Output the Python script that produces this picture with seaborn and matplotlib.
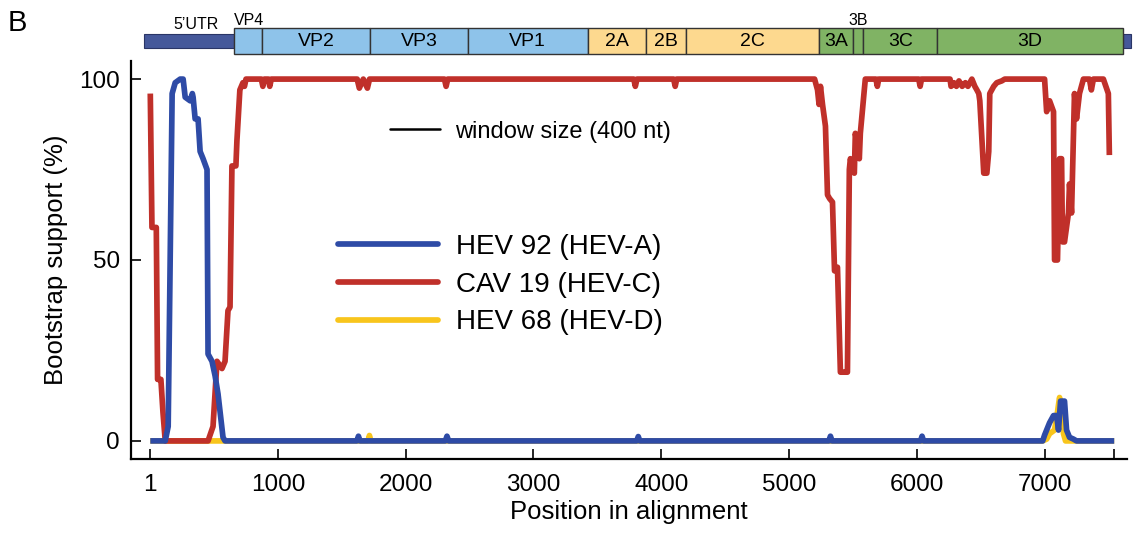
import pandas as pd
import seaborn as sns
import matplotlib.pyplot as plt
from matplotlib.lines import Line2D
from matplotlib.patches import Rectangle

# bootscan values (position in alignment, bootstrap %)
hev92_pos = [1, 118, 141, 172, 196, 235, 258, 274, 313, 330, 336, 352, 375, 391, 414, 445, 453, 484,
             508, 531, 570, 586, 1618, 1630, 1642, 2310, 2323, 2336, 3808, 3820, 3832, 5312, 5324,
             5336, 6029, 6041, 6053, 6985, 7000, 7016, 7039, 7070, 7094, 7109, 7125, 7156, 7172,
             7195, 7226, 7250, 7545]
hev92_val = [0, 0, 4, 96, 99, 100, 100, 95, 94, 96, 95, 89, 89, 80, 78, 75, 24, 22,
             18, 13, 1, 0, 0, 1.3, 0, 0, 1.3, 0, 0, 1.2, 0, 0, 1.3,
             0, 0, 1.3, 0, 0, 1.6, 3, 5, 7, 7, 3, 11, 11, 3,
             1, 0.5, 0, 0]

cav19_pos = [1, 14, 48, 58, 84, 100, 118, 453, 492, 523, 562, 586, 609, 625, 640, 671, 679, 702,
             726, 738, 750, 870, 882, 894, 925, 936, 948, 1620, 1637, 1668, 1700, 1717, 2303, 2316,
             2329, 3785, 3797, 3810, 4097, 4109, 4121, 5200, 5223, 5235, 5246, 5262, 5285, 5301,
             5317, 5340, 5356, 5379, 5402, 5433, 5457, 5472, 5480, 5511, 5519, 5550, 5558, 5589,
             5597, 5680, 5691, 5702, 6015, 6026, 6037, 6260, 6268, 6290, 6310, 6330, 6355, 6380,
             6400, 6431, 6454, 6470, 6485, 6493, 6524, 6548, 6563, 6571, 6602, 6626, 6665, 6688,
             7000, 7016, 7039, 7070, 7078, 7101, 7117, 7133, 7140, 7156, 7187, 7195, 7211, 7234,
             7250, 7273, 7304, 7351, 7366, 7382, 7460, 7499, 7507]
cav19_val = [96, 59, 59, 17, 17, 8, 0, 0, 4, 22, 20, 22, 36, 37, 76, 76, 83, 97,
             99, 98, 100, 100, 98, 100, 100, 98, 100, 100, 97.5, 100, 97.5, 100, 100, 98,
             100, 100, 98, 100, 100, 98, 100, 100, 97, 93, 98, 93, 87, 68,
             67, 66, 47, 48, 19, 19, 19, 75, 78, 74, 85, 78, 85, 97,
             100, 100, 98, 100, 100, 98, 100, 100, 98, 99, 98, 99.5, 98, 99,
             98, 100, 98, 97, 96, 94, 74, 74, 80, 96, 98, 99, 99.5, 100,
             100, 91, 94, 91, 50, 50, 78, 78, 55, 55, 63, 71, 63, 96,
             89, 96, 100, 100, 97, 100, 100, 96, 79]

hev68_pos = [1, 1705, 1716, 1727, 6985, 7016, 7039, 7078, 7101, 7117, 7133, 7148, 7164, 7545]
hev68_val = [0, 0, 1.5, 0, 0, 0.5, 2, 3, 8, 12, 10, 2, 0, 0]

series_names = ["HEV 92 (HEV-A)", "CAV 19 (HEV-C)", "HEV 68 (HEV-D)"]
series_colors = ["#2E4BA6", "#C0302A", "#F8C51C"]

tick_pos = [1, 1000, 2000, 3000, 4000, 5000, 6000, 7000, 7545]
tick_labels = ["1", "1000", "2000", "3000", "4000", "5000", "6000", "7000", ""]

# genome map: name, start, end, colour group
genes = ["VP4", "VP2", "VP3", "VP1", "2A", "2B", "2C", "3A", "3B", "3C", "3D"]
gene_start = [656, 874, 1724, 2487, 3423, 3882, 4194, 5231, 5504, 5582, 6158]
gene_end = [874, 1724, 2487, 3423, 3882, 4194, 5231, 5504, 5582, 6158, 7616]
gene_group = ["P1", "P1", "P1", "P1", "P2", "P2", "P2", "P3", "P3", "P3", "P3"]
group_colors = {"P1": "#8EC3EA", "P2": "#FDD98F", "P3": "#80B364"}
utr_start = [-46, 7616]
utr_end = [656, 7678]
utr_color = "#45589A"

sns.set_style("ticks")
plt.rcParams["font.family"] = ["Liberation Sans", "DejaVu Sans"]
plt.rcParams["text.color"] = "black"
plt.rcParams["axes.labelcolor"] = "black"

fig = plt.figure(figsize=(11.38, 5.38), dpi=100)
ax = fig.add_axes([131 / 1138, 1 - 459 / 538, 996 / 1138, 398 / 538])

frames = [
    pd.DataFrame({"pos": hev68_pos, "boot": hev68_val}),
    pd.DataFrame({"pos": cav19_pos, "boot": cav19_val}),
    pd.DataFrame({"pos": hev92_pos, "boot": hev92_val}),
]
for df, color in zip(frames, [series_colors[2], series_colors[1], series_colors[0]]):
    sns.lineplot(data=df, x="pos", y="boot", ax=ax, color=color, linewidth=4.1,
                 estimator=None, sort=False, legend=False, solid_joinstyle="round",
                 solid_capstyle="butt")

ax.set_xlim(-150, 7645)
ax.set_ylim(-5, 105)
ax.set_xticks(tick_pos)
ax.set_xticklabels(tick_labels)
ax.set_yticks([0, 50, 100])
ax.tick_params(direction="in", length=7, width=1.2, labelsize=17.5, colors="black")
ax.tick_params(axis="x", pad=11)
ax.tick_params(axis="y", pad=8)
for side in ["top", "right"]:
    ax.spines[side].set_visible(False)
for side in ["left", "bottom"]:
    ax.spines[side].set_linewidth(1.6)
    ax.spines[side].set_color("black")
ax.set_xlabel("Position in alignment", fontsize=18.5, labelpad=3)
ax.set_ylabel("Bootstrap support (%)", fontsize=18.5, labelpad=8)

handles = [Line2D([], [], color=c, linewidth=4.1) for c in series_colors]
leg = ax.legend(handles, series_names, loc="upper left", bbox_to_anchor=(0.208, 0.565),
                frameon=False, fontsize=20, handlelength=3.6, handletextpad=0.65,
                labelspacing=0.42, borderpad=0, borderaxespad=0)
ax.add_artist(leg)
ax.legend([Line2D([], [], color="black", linewidth=1.8)], ["window size (400 nt)"],
          loc="upper left", bbox_to_anchor=(0.26, 0.85), frameon=False, fontsize=17,
          handlelength=2.1, handletextpad=0.65, borderpad=0, borderaxespad=0)

# genome organisation bar above the plot
ax_map = fig.add_axes([131 / 1138, 1 - 58 / 538, 996 / 1138, 38 / 538])
ax_map.set_xlim(ax.get_xlim())
ax_map.set_ylim(0, 1)
ax_map.axis("off")
for s, e in zip(utr_start, utr_end):
    ax_map.add_patch(Rectangle((s, 0.26), e - s, 0.37, facecolor=utr_color,
                               edgecolor="#2a3566", linewidth=0.8, clip_on=False))
for name, s, e, grp in zip(genes, gene_start, gene_end, gene_group):
    ax_map.add_patch(Rectangle((s, 0.105), e - s, 0.685, facecolor=group_colors[grp],
                               edgecolor="#333333", linewidth=1.0, clip_on=False))
    if name not in ("VP4", "3B"):
        ax_map.text((s + e) / 2, 0.43, name, ha="center", va="center", fontsize=14)
ax_map.text((utr_start[0] + utr_end[0]) / 2 + 50, 0.68, "5\u2019UTR", ha="center", va="bottom", fontsize=11.5)
ax_map.text(gene_start[0], 0.8, "VP4", ha="left", va="bottom", fontsize=11.5)
ax_map.text((gene_start[8] + gene_end[8]) / 2, 0.8, "3B", ha="center", va="bottom", fontsize=11.5)

fig.text(8 / 1138, 1 - 31 / 538, "B", fontsize=21)

fig.savefig("out.png", dpi=100)
